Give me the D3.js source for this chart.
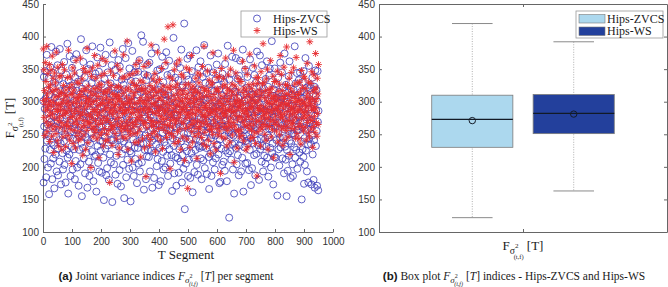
<!DOCTYPE html>
<html lang="en">
<head>
<meta charset="UTF-8">
<title>Hips-ZVCS vs Hips-WS</title>
<script src="https://d3js.org/d3.v7.min.js"></script>
<style>
  body { margin: 0; background: #fff; }
  .tick text { font-family: "Liberation Sans", Arial, sans-serif; font-size: 10px; fill: #333; }
  .tick line, .domain { stroke: #666; }
  .serif { font-family: "Liberation Serif", "Times New Roman", serif; fill: #1a1a1a; }
</style>
</head>
<body>
<script>
// F values per T segment (segment number = position + 1)
const hipsZvcs = [
  301,176,338,262,212,289,347,228,305,251,184,296,372,240,318,265,199,283,336,247,
  158,311,274,226,353,291,205,269,384,237,298,181,322,259,213,344,277,233,167,306,
  262,329,219,285,377,246,193,314,270,356,228,187,299,241,335,258,208,381,274,316,
  236,173,292,348,255,310,221,266,196,327,284,239,361,203,297,250,318,176,279,342,
  225,303,264,389,214,281,159,333,247,295,219,370,268,307,186,254,325,231,290,352,
  272,196,318,243,284,365,227,302,258,181,337,265,209,296,373,242,317,199,286,256,
  331,248,171,289,226,344,275,312,204,262,396,237,283,155,320,251,298,229,361,278,
  213,306,259,338,190,281,246,327,379,222,293,265,168,314,241,350,277,208,301,186,
  288,236,357,271,311,197,252,329,224,385,263,305,244,178,296,337,216,275,320,257,
  343,218,279,162,300,257,368,232,289,206,318,270,346,193,261,310,240,383,225,292,
  253,327,191,284,239,359,270,214,306,149,281,335,246,298,228,372,263,187,315,274,
  198,290,345,233,317,261,180,303,252,391,219,276,328,207,295,241,356,269,146,310,
  286,241,373,256,204,322,279,235,349,188,300,265,217,338,253,291,174,320,247,364,
  231,309,266,195,354,280,243,313,170,271,334,220,292,258,381,203,287,326,239,152,
  319,262,227,300,367,245,184,296,273,339,211,258,305,390,233,276,197,351,268,224,
  263,147,332,287,221,308,254,378,199,294,242,323,186,270,345,229,301,257,212,331,
  294,355,238,175,311,267,229,346,282,205,320,250,364,193,288,236,315,271,402,244,
  207,284,321,259,392,236,298,165,274,342,226,307,248,287,181,333,263,216,297,357,
  340,226,272,306,215,285,360,244,193,319,256,280,225,374,301,240,168,326,259,288,
  276,313,183,251,337,270,222,294,383,234,305,201,266,348,212,289,245,318,172,297,
  229,265,350,297,243,178,323,261,286,209,369,252,291,223,330,196,274,312,238,355,
  311,199,287,233,376,256,302,217,341,268,186,309,247,281,363,227,258,300,205,281,
  255,343,218,304,163,292,244,328,271,398,232,279,190,315,252,337,215,284,260,171,
  297,240,279,359,213,266,333,191,288,227,314,262,352,208,296,239,380,270,176,322,
  218,325,263,197,302,251,420,230,135,283,244,316,205,271,340,224,290,366,252,186,
  334,276,211,292,242,371,264,183,309,258,297,221,347,235,278,161,325,268,214,303,
  270,192,315,257,336,226,287,243,379,203,264,319,250,188,296,353,232,273,309,229,
  240,299,362,213,276,318,181,257,293,231,338,272,210,304,246,387,265,198,282,329,
  302,253,229,344,189,270,306,237,261,352,215,293,166,327,259,286,220,371,244,277,
  186,317,271,249,293,207,345,282,226,316,268,196,302,248,334,213,290,264,357,233,
  325,234,296,374,219,263,318,175,287,242,299,177,256,336,228,310,267,203,343,279,
  262,303,208,281,330,247,194,358,271,225,291,317,239,178,305,264,386,221,283,253,
  291,122,334,256,224,305,272,343,211,288,250,369,235,299,196,321,248,278,159,316,
  236,288,261,315,367,229,282,204,296,260,335,218,306,252,187,340,274,233,297,363,
  309,256,193,273,242,329,214,294,380,247,162,312,266,230,301,257,349,205,285,240,
  268,321,247,206,338,282,235,303,259,195,318,274,226,365,289,244,172,311,262,297,
  198,275,311,352,236,264,297,218,341,279,250,187,329,261,303,220,286,377,241,313,
  285,233,266,299,180,324,255,371,227,290,314,243,272,208,356,284,232,305,193,267,
  320,262,217,287,311,243,205,335,270,231,294,362,214,278,248,323,185,293,259,340,
  245,351,288,229,268,199,307,258,393,221,281,236,309,173,276,319,263,215,351,291,
  277,214,327,263,241,306,284,156,299,252,337,227,267,315,202,288,245,360,230,304,
  308,268,237,345,292,213,264,322,244,283,190,305,374,257,231,298,211,326,269,155,
  226,300,281,194,314,255,339,217,276,362,240,293,266,183,320,236,287,251,311,204,
  294,186,251,318,273,230,303,385,248,214,328,271,226,291,256,344,197,279,310,262,
  257,333,276,222,297,345,208,268,315,239,281,150,306,261,227,330,293,215,347,174,
  315,244,203,289,367,256,225,310,276,193,322,258,299,234,176,288,355,243,267,321,
  271,326,259,235,282,173,299,248,337,219,265,312,180,296,241,323,168,279,348,309,
  232,287,318,255,171,300,347,269,164,286
];

const hipsWs = [
  381,302,349,276,317,248,296,360,287,331,269,305,385,254,312,290,343,263,322,296,
  278,357,239,301,284,326,266,349,293,247,315,370,281,258,336,299,222,318,275,344,
  307,262,329,288,251,376,296,319,240,285,353,271,308,232,296,338,277,260,313,287,
  292,340,268,314,226,298,357,279,246,303,325,264,287,349,255,310,282,231,318,297,
  263,309,284,337,270,248,301,379,262,290,322,241,295,276,338,257,311,286,205,326,
  313,277,352,236,299,267,318,282,344,256,306,229,289,363,272,297,248,330,265,304,
  285,241,306,328,275,311,254,292,367,279,243,316,298,261,335,283,218,308,271,351,
  249,320,289,263,345,298,227,317,280,305,256,382,270,293,237,324,301,266,346,278,
  304,268,315,281,199,296,339,259,310,275,352,288,246,300,320,262,285,371,253,312,
  271,336,257,302,288,321,243,279,356,294,265,308,214,327,283,249,318,296,272,340,
  326,253,298,366,267,304,286,232,313,277,343,259,297,316,240,289,362,271,306,250,
  291,315,274,241,330,299,256,319,283,176,303,268,347,287,325,262,295,233,312,280,
  258,303,340,286,263,311,292,378,251,296,273,322,243,308,284,356,266,301,219,324,
  310,276,229,305,289,349,262,291,321,255,300,269,336,282,246,313,295,372,259,287,
  282,338,297,263,318,244,286,307,270,393,256,298,227,321,288,264,341,303,276,249,
  297,255,316,283,209,304,330,268,291,343,261,309,283,251,325,298,237,314,270,357,
  265,325,288,346,276,252,297,319,238,284,363,273,302,258,332,289,215,306,279,320,
  317,271,243,298,330,287,266,354,301,229,290,320,268,313,185,296,341,260,307,283,
  248,302,359,276,290,315,233,288,325,271,242,306,387,264,297,251,319,284,270,335,
  309,262,295,321,254,343,282,223,299,314,268,330,292,247,376,286,305,259,316,279,
  287,334,269,306,241,293,318,277,351,260,302,228,289,324,273,311,265,396,283,296,
  256,314,286,360,274,245,299,322,264,289,415,252,307,280,338,263,294,197,319,271,
  324,283,251,301,278,335,261,418,290,246,310,273,349,285,236,303,267,322,294,358,
  272,296,327,254,313,284,239,306,276,364,293,258,318,281,227,301,342,269,288,311,
  301,246,289,338,267,317,295,210,284,326,259,305,274,352,291,243,312,280,167,298,
  283,327,261,304,349,276,230,297,319,265,288,371,254,309,282,238,324,271,299,314,
  266,305,292,247,318,280,336,259,303,287,213,315,270,344,296,251,287,329,262,307,
  312,258,341,284,269,300,245,322,278,354,291,235,307,266,385,280,317,253,294,276,
  291,320,270,231,309,286,347,264,298,241,316,279,333,257,290,308,220,285,326,262,
  257,302,283,329,250,375,295,272,311,236,288,345,267,304,281,226,318,290,259,337,
  320,277,249,297,316,263,287,339,255,301,274,190,309,289,351,246,297,268,323,283,
  278,336,294,260,305,282,326,244,289,367,262,312,278,232,300,320,256,286,341,270,
  305,264,288,317,238,296,350,275,261,309,284,327,249,292,315,268,379,285,207,301,
  263,324,279,297,344,257,310,287,229,303,272,336,293,254,318,277,299,246,331,290,
  294,257,331,276,302,248,286,362,269,314,296,240,321,282,264,307,351,273,289,226,
  318,286,263,342,281,299,231,311,277,326,259,291,373,266,304,244,289,320,256,297,
  273,309,292,245,327,264,303,283,355,252,315,279,236,298,337,270,311,186,290,328,
  301,254,337,286,270,318,290,261,306,232,294,346,275,313,258,287,327,265,389,279,
  285,329,265,306,250,292,317,273,241,335,282,301,262,350,288,227,310,276,298,319,
  262,297,314,270,363,287,246,305,283,321,257,296,339,272,214,308,289,331,265,301,
  309,278,290,331,255,301,269,347,286,238,316,293,263,306,327,249,284,371,276,295,
  280,342,258,299,317,275,233,308,290,262,353,281,305,241,296,326,270,312,256,384,
  297,263,325,285,246,311,294,271,336,278,302,219,320,287,259,345,292,267,308,281,
  266,315,289,352,272,299,258,327,283,305,244,293,368,276,311,251,300,286,329,262,
  311,287,243,302,330,267,296,316,235,289,348,274,303,261,322,284,297,255,339,278,
  283,299,336,261,292,320,275,241,307,286,359,268,313,294,252,330,279,301,246,392,
  306,272,297,328,258,289,346,271,304,230,315,287,262,341,293,277,319,253,300,374,
  289,321,268,305,247,336,282,312,265,357
];

const yTicks = [100, 150, 200, 250, 300, 350, 400, 450];
const xTicks = [0, 100, 200, 300, 400, 500, 600, 700, 800, 900, 1000];

// box plot statistics
const boxNames = ["Hips-ZVCS", "Hips-WS"];
const boxLow = [122, 163];
const boxQ1 = [230, 251];
const boxMedian = [273, 282];
const boxQ3 = [310, 311];
const boxHigh = [420, 392];
const boxMean = [271, 281];
const boxColors = ["#acd8ee", "#23409c"];

const width = 668, height = 287;
const svg = d3.select("body").append("svg")
    .attr("width", width)
    .attr("height", height);

const plotTop = 4, plotBottom = 232;

// ---------- panel (a): scatter ----------
const xA = d3.scaleLinear().domain([0, 1000]).range([43, 333]);
const yA = d3.scaleLinear().domain([100, 450]).range([plotBottom, plotTop]);

svg.append("g")
    .attr("transform", "translate(0," + plotBottom + ")")
    .call(d3.axisBottom(xA).tickValues(xTicks).tickFormat(d3.format("d"))
        .tickSizeInner(-3).tickSizeOuter(0).tickPadding(6));
svg.append("g")
    .attr("transform", "translate(43,0)")
    .call(d3.axisLeft(yA).tickValues(yTicks).tickSizeInner(-3).tickSizeOuter(0).tickPadding(4));

const blue = "#3838b8", red = "#e62a2e";

const pts = svg.append("g");
pts.selectAll("circle")
    .data(hipsZvcs)
    .join("circle")
    .attr("cx", (d, i) => xA(i + 1))
    .attr("cy", d => yA(d))
    .attr("r", 3.5)
    .attr("fill", "none")
    .attr("stroke", blue)
    .attr("stroke-width", 0.8);

const star = "M-3.4,0H3.4M0,-3.4V3.4M-2.4,-2.4L2.4,2.4M-2.4,2.4L2.4,-2.4";
pts.selectAll("path")
    .data(hipsWs)
    .join("path")
    .attr("d", star)
    .attr("transform", (d, i) => "translate(" + xA(i + 1) + "," + yA(d) + ")")
    .attr("fill", "none")
    .attr("stroke", red)
    .attr("stroke-width", 0.9);

// legend (a)
const legA = svg.append("g").attr("transform", "translate(241,11)");
legA.append("rect").attr("width", 86).attr("height", 26)
    .attr("fill", "#fff").attr("stroke", "#9a9a9a").attr("stroke-width", 0.8);
legA.append("circle").attr("cx", 16).attr("cy", 7.5).attr("r", 3.5)
    .attr("fill", "none").attr("stroke", blue).attr("stroke-width", 0.8);
legA.append("path").attr("d", star).attr("transform", "translate(16,19.5)")
    .attr("stroke", red).attr("stroke-width", 0.9);
legA.selectAll("text")
    .data(boxNames)
    .join("text")
    .attr("class", "serif")
    .attr("x", 32)
    .attr("y", (d, i) => 11.5 + i * 12.5)
    .attr("font-size", 12)
    .text(d => d);

// axis titles (a)
svg.append("text")
    .attr("class", "serif")
    .attr("x", 186)
    .attr("y", 259)
    .attr("text-anchor", "middle")
    .attr("font-size", 13)
    .text("T Segment");

function fLabel(sel, size) {
    sel.append("tspan").text("F");
    sel.append("tspan").attr("font-size", size * 0.75).attr("dy", 4).text("σ");
    sel.append("tspan").attr("font-size", size * 0.55).attr("dy", -6).text("2");
    sel.append("tspan").attr("font-size", size * 0.5).attr("dx", -5).attr("dy", 11).text("(t,f)");
    sel.append("tspan").attr("font-size", size).attr("dy", -9).text(" [T]");
}

const yLab = svg.append("text")
    .attr("class", "serif")
    .attr("transform", "translate(14,118) rotate(-90)")
    .attr("text-anchor", "middle")
    .attr("font-size", 13);
fLabel(yLab, 13);

// ---------- panel (b): box plot ----------
const xB = d3.scaleBand().domain(boxNames).range([379, 667])
    .paddingInner(0.2).paddingOuter(0.52);
const yB = d3.scaleLinear().domain([100, 450]).range([plotBottom, plotTop]);
const xFrame = d3.scaleLinear().domain([0, 1]).range([379, 667]);

svg.append("g")
    .attr("transform", "translate(0," + plotBottom + ")")
    .call(d3.axisBottom(xFrame).tickValues([0.5]).tickFormat("").tickSizeInner(-3).tickSizeOuter(0));
svg.append("g")
    .attr("transform", "translate(0," + plotTop + ")")
    .call(d3.axisTop(xFrame).tickValues([0.5]).tickFormat("").tickSizeInner(-3).tickSizeOuter(0));
svg.append("g")
    .attr("transform", "translate(379,0)")
    .call(d3.axisLeft(yB).tickValues(yTicks).tickSizeInner(-3).tickSizeOuter(0).tickPadding(4));
svg.append("g")
    .attr("transform", "translate(667,0)")
    .call(d3.axisRight(yB).tickValues(yTicks).tickFormat("").tickSizeInner(-3).tickSizeOuter(0));

const boxes = svg.append("g")
    .selectAll("g")
    .data(boxNames)
    .join("g");

const cx = d => xB(d) + xB.bandwidth() / 2;
const capHalf = xB.bandwidth() / 4;

boxes.append("line")
    .attr("x1", cx).attr("x2", cx)
    .attr("y1", (d, i) => yB(boxHigh[i]))
    .attr("y2", (d, i) => yB(boxLow[i]))
    .attr("stroke", "#9a9a9a")
    .attr("stroke-width", 0.8)
    .attr("stroke-dasharray", "1,1.5");
boxes.append("line")
    .attr("x1", d => cx(d) - capHalf).attr("x2", d => cx(d) + capHalf)
    .attr("y1", (d, i) => yB(boxHigh[i])).attr("y2", (d, i) => yB(boxHigh[i]))
    .attr("stroke", "#8a8a8a");
boxes.append("line")
    .attr("x1", d => cx(d) - capHalf).attr("x2", d => cx(d) + capHalf)
    .attr("y1", (d, i) => yB(boxLow[i])).attr("y2", (d, i) => yB(boxLow[i]))
    .attr("stroke", "#8a8a8a");
boxes.append("rect")
    .attr("x", d => xB(d))
    .attr("width", xB.bandwidth())
    .attr("y", (d, i) => yB(boxQ3[i]))
    .attr("height", (d, i) => yB(boxQ1[i]) - yB(boxQ3[i]))
    .attr("fill", (d, i) => boxColors[i])
    .attr("stroke", "#7a7a7a")
    .attr("stroke-width", 0.8);
boxes.append("line")
    .attr("x1", d => xB(d)).attr("x2", d => xB(d) + xB.bandwidth())
    .attr("y1", (d, i) => yB(boxMedian[i])).attr("y2", (d, i) => yB(boxMedian[i]))
    .attr("stroke", "#121a26")
    .attr("stroke-width", 1.2);
boxes.append("circle")
    .attr("cx", cx)
    .attr("cy", (d, i) => yB(boxMean[i]))
    .attr("r", 3.2)
    .attr("fill", "none")
    .attr("stroke", "#141c28")
    .attr("stroke-width", 1);

// legend (b)
const legB = svg.append("g").attr("transform", "translate(576,11)");
legB.append("rect").attr("width", 87).attr("height", 27)
    .attr("fill", "#fff").attr("stroke", "#9a9a9a").attr("stroke-width", 0.8);
legB.selectAll(".patch")
    .data(boxNames)
    .join("rect")
    .attr("class", "patch")
    .attr("x", 3)
    .attr("y", (d, i) => 3.5 + i * 12.5)
    .attr("width", 26)
    .attr("height", 8.5)
    .attr("fill", (d, i) => boxColors[i])
    .attr("stroke", "#7a7a7a")
    .attr("stroke-width", 0.6);
legB.selectAll("text")
    .data(boxNames)
    .join("text")
    .attr("class", "serif")
    .attr("x", 31)
    .attr("y", (d, i) => 11.5 + i * 12.5)
    .attr("font-size", 12)
    .text(d => d);

const xLabB = svg.append("text")
    .attr("class", "serif")
    .attr("x", 523).attr("y", 250)
    .attr("text-anchor", "middle")
    .attr("font-size", 13);
fLabel(xLabB, 13);

// ---------- captions ----------
function caption(x, tag, before, after) {
    const t = svg.append("text")
        .attr("class", "serif")
        .attr("x", x).attr("y", 280)
        .attr("text-anchor", "middle")
        .attr("font-size", 11.5);
    t.append("tspan")
        .attr("font-family", "Liberation Sans, Arial, sans-serif")
        .attr("font-weight", "bold")
        .text(tag);
    t.append("tspan").text(before);
    t.append("tspan").attr("font-style", "italic").text("F");
    t.append("tspan").attr("font-style", "italic").attr("font-size", 9).attr("dy", 3).text("σ");
    t.append("tspan").attr("font-size", 6).attr("dy", -5).text("2");
    t.append("tspan").attr("font-style", "italic").attr("font-size", 6).attr("dx", -3.5).attr("dy", 8).text("(i,f)");
    t.append("tspan").attr("font-size", 11.5).attr("dy", -6).text(" [");
    t.append("tspan").attr("font-style", "italic").text("T");
    t.append("tspan").text("]" + after);
}
caption(166, "(a)", " Joint variance indices ", " per segment");
caption(514, "(b)", " Box plot ", " indices - Hips-ZVCS and Hips-WS");
</script>
</body>
</html>
